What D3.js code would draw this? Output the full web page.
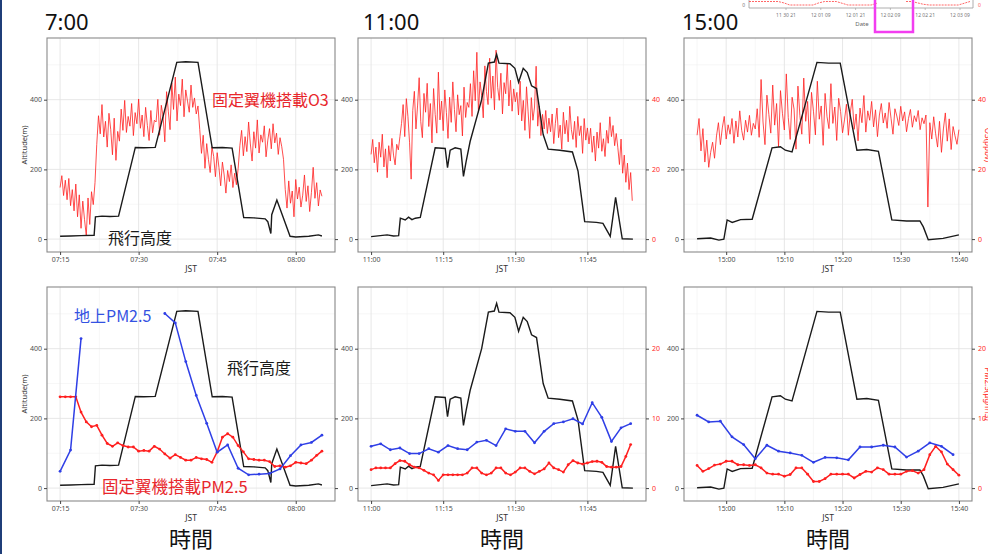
<!DOCTYPE html>
<html>
<head>
<meta charset="utf-8">
<script src="https://cdn.jsdelivr.net/npm/d3@7"></script>
<style>
  body { margin: 0; background: #fff; }
  svg { display: block; }
</style>
</head>
<body>
<script>
// ---- flight altitude, [time, m] ----
const alt07 = [["07:15:00",8],["07:17:00",9],["07:19:00",10],["07:21:30",11],["07:21:45",64],["07:23:00",66],["07:24:30",65],["07:26:10",66],
  ["07:29:22",263],["07:31:00",262],["07:33:10",263],["07:37:17",507],["07:39:00",509],["07:41:20",507],["07:44:03",262],["07:46:00",263],
  ["07:47:51",261],["07:50:04",62],["07:52:00",61],["07:54:10",58],["07:54:40",50],["07:55:15",16],["07:55:25",70],["07:56:24",112],
  ["07:58:55",8],["08:00:00",6],["08:02:30",8],["08:04:20",12],["08:05:00",9]];
const alt11 = [["11:00:00",7],["11:03:20",12],["11:04:40",9],["11:05:44",10],["11:06:05",60],["11:07:06",55],["11:07:48",63],["11:08:30",56],
  ["11:09:12",60],["11:10:14",62],["11:13:20",262],["11:15:25",260],["11:15:54",205],["11:16:27",255],["11:17:29",262],["11:18:40",258],
  ["11:19:13",180],["11:19:46",222],["11:20:36",280],["11:23:00",400],["11:24:24",505],["11:25:38",508],["11:26:07",530],["11:26:36",505],
  ["11:28:53",503],["11:29:55",490],["11:30:41",450],["11:31:39",490],["11:32:29",478],["11:33:23",440],["11:34:25",432],["11:35:48",300],
  ["11:36:50",258],["11:39:15",255],["11:41:53",250],["11:43:03",195],["11:44:26",50],["11:46:52",48],["11:48:14",45],["11:48:56",28],
  ["11:49:45",8],["11:50:52",120],["11:52:15",1],["11:54:28",0]];
const alt15 = [["14:55:00",1],["14:57:20",3],["14:58:45",-3],["14:59:36",0],["15:00:10",55],["15:01:02",48],["15:02:28",56],["15:04:28",57],
  ["15:07:53",262],["15:09:19",265],["15:10:10",255],["15:11:19",250],["15:15:36",507],["15:17:36",505],["15:19:36",505],["15:22:28",255],
  ["15:24:10",257],["15:26:10",252],["15:28:28",55],["15:31:00",52],["15:33:18",52],["15:33:53",35],["15:34:44",-2],["15:37:17",2],["15:40:00",12]];

// ---- airborne O3 (ppbv), one value every 20 s ----
const o3_07 = [14.8,18.2,12.5,16.9,11.3,17.4,9.6,14.2,8.1,15.8,6.4,12.7,3.1,10.9,5.6,1.0,11.8,4.2,13.6,9.9,16.2,
  27.1,35.4,30.2,38.6,29.3,33.8,26.4,36.1,31.5,24.2,34.7,22.6,30.9,28.1,37.3,31.2,39.8,30.6,35.2,32.4,38.9,29.7,36.3,33.1,40.2,31.8,35.6,29.4,37.8,32.6,28.3,36.9,30.5,34.1,
  33.6,40.1,29.8,38.4,35.2,27.9,42.3,36.7,31.4,44.8,37.2,46.5,33.9,41.6,38.3,45.9,35.1,42.8,39.6,36.4,44.2,37.8,40.5,35.9,
  38.2,31.5,24.6,29.8,20.3,27.4,22.8,19.1,26.5,23.7,17.9,24.8,20.6,15.3,22.1,18.4,13.2,19.7,16.5,21.3,14.8,18.9,15.6,20.2,
  26.8,31.2,23.9,29.4,25.1,33.6,27.3,22.4,30.8,26.1,34.2,24.7,29.9,27.8,32.5,23.6,28.4,31.7,25.9,33.1,27.6,30.4,24.3,29.1,26.5,22.9,
  14.2,8.9,16.7,10.3,13.8,6.4,17.1,11.5,14.9,9.2,12.6,18.4,10.8,15.3,7.9,13.4,20.6,11.7,16.2,9.5,14.1,12.3];
const o3_11 = [24.3,28.6,21.9,26.4,19.2,27.8,23.5,30.1,20.7,25.9,17.6,26.8,22.4,28.9,24.1,21.3,27.2,25.6,29.4,
  33.2,38.6,29.4,40.3,35.1,27.8,17.2,36.9,42.4,31.6,38.2,46.3,33.7,29.1,41.8,36.4,44.7,32.3,38.9,27.6,43.2,35.8,30.4,47.9,34.2,39.6,31.1,42.8,36.3,28.9,40.7,33.5,45.1,37.2,30.8,41.4,35.7,38.3,29.6,43.6,34.9,39.2,
  37.8,44.6,35.2,48.3,39.7,53.6,36.4,45.1,41.2,34.8,49.7,42.3,38.6,51.9,40.4,46.8,37.1,54.2,43.5,39.8,47.6,35.9,44.9,41.7,50.3,38.2,45.6,36.7,43.1,39.4,
  42.1,35.6,45.3,33.9,39.8,31.2,43.7,36.5,28.9,40.6,34.1,37.9,49.6,32.4,38.2,29.7,35.8,31.6,36.9,30.3,34.7,
  30.8,35.9,27.4,33.2,37.6,29.1,32.7,25.8,36.4,30.2,34.1,27.9,38.1,31.4,28.6,33.8,26.3,35.2,29.7,32.5,24.6,34.6,28.4,31.9,
  27.3,31.8,24.9,29.6,22.4,30.7,26.1,33.4,25.2,28.8,23.7,31.2,27.5,35.1,29.4,32.6,26.8,30.3,
  26.2,21.4,28.7,18.9,24.1,16.3,21.8,14.2,19.1,11.0];
const o3_15 = [29.8,34.6,25.3,31.7,22.1,28.4,20.6,24.9,27.8,23.2,
  29.6,33.4,27.1,31.9,35.2,28.7,32.8,30.1,34.6,27.5,33.9,29.3,36.8,31.2,28.4,34.1,30.7,35.5,29.8,33.2,31.6,
  37.4,29.2,45.8,33.6,27.1,41.3,35.8,30.4,44.2,32.7,38.9,26.5,42.6,36.1,31.3,47.4,34.9,28.6,40.7,37.3,25.8,43.9,35.4,30.1,46.2,
  33.8,39.5,27.4,42.1,36.7,29.9,45.3,34.4,38.2,26.9,41.8,35.1,31.7,44.6,33.2,37.9,28.3,40.4,36.6,30.5,
  34.2,38.7,29.8,36.4,40.1,31.5,35.9,28.2,37.6,33.4,41.2,30.7,36.8,34.1,39.5,32.2,37.1,29.4,35.6,38.9,33.3,36.2,31.8,39.2,34.7,
  30.1,37.4,35.3,32.6,38.1,33.9,36.5,30.8,34.6,37.2,32.1,35.4,33.7,36.9,31.4,34.8,33.1,35.6,
  9.2,33.4,28.7,35.1,30.2,26.4,33.8,24.9,31.6,36.2,28.1,34.5,25.7,32.3,29.6,27.2,31.4];

// ---- airborne PM2.5 (ug/m3), every 1 min ----
const pmAir07 = [13.1,13.1,13.1,13.1,10.9,9.5,8.8,9.0,7.6,6.4,6.0,6.5,6.1,5.9,5.9,5.3,5.4,5.3,6.0,5.6,4.9,4.3,4.8,4.4,4.0,4.0,
  4.4,4.2,4.1,3.7,5.2,7.3,7.8,7.3,6.1,5.2,4.2,4.1,4.0,4.0,3.8,3.1,3.2,3.0,3.2,3.7,3.6,3.5,4.0,4.7,5.3];
const pmAir11 = [2.65,2.9,2.9,2.9,2.9,3.5,3.95,3.85,3.35,3.0,2.9,2.55,2.15,1.9,1.1,1.9,1.9,1.9,1.9,1.9,
  2.15,2.9,2.9,2.15,1.9,2.15,2.9,2.9,2.15,1.9,2.3,2.9,2.9,2.4,2.05,2.4,2.75,3.6,2.9,2.65,
  2.3,3.35,3.95,3.6,3.45,3.6,3.8,3.85,3.7,3.1,3.0,3.0,3.1,4.55,6.25];
const pmAir15 = [3.25,2.4,2.8,3.3,3.45,3.85,3.85,3.35,3.35,3.25,3.35,2.9,2.15,2.0,2.0,1.7,1.95,2.9,2.9,2.0,
  0.95,0.95,1.35,2.0,2.0,2.0,2.0,1.45,1.95,2.4,2.3,2.9,2.65,2.0,2.0,2.0,2.4,2.5,2.15,2.65,4.8,6.0,5.2,3.45,2.65,1.85];

// ---- ground PM2.5 (ug/m3), every 2 min ----
const pmGround07 = [2.4,5.45,21.45,null,null,null,null,null,null,null,25.05,23.7,18.15,13.3,9.3,5.15,6.2,2.85,1.9,2.0,2.1,2.75,4.65,6.2,6.55,7.6];
const pmGround11 = [6.0,6.35,5.5,5.75,4.95,4.95,5.65,5.15,6.1,5.65,5.5,6.6,6.85,6.1,8.5,8.15,8.15,6.5,8.15,9.25,9.5,9.95,9.2,12.25,10.15,6.7,8.65,9.25];
const pmGround15 = [10.45,9.5,9.6,7.35,6.25,4.2,6.15,5.3,5.05,4.7,3.7,4.4,4.35,4.05,5.9,5.9,6.15,5.9,4.45,5.3,6.5,6.0,4.8];

// ---- axis ticks ----
const ticks07 = ["07:15","07:30","07:45","08:00"];
const ticks11 = ["11:00","11:15","11:30","11:45"];
const ticks15 = ["15:00","15:10","15:20","15:30","15:40"];
const altTicks = [0, 200, 400];
const o3Ticks = [0, 20, 40];
const pmTicks = [0, 10, 20];

// ---- strip of the overview chart at the top right ----
const insetLabels = ["11 30 21","12 01 09","12 01 21","12 02 09","12 02 21","12 03 09"];
const insetLevel = [1,1,1,1,1,1,0.6,0,0,0,0,0,0.6,1,1,1,0.5,0,0,0,0,0,0.5,null,null,null,null,1,1,0.6,0.2,0,0,0,0,0,0,0.5,1];

const W = 988, H = 554;
const font = "'Noto Sans', 'Open Sans', sans-serif";
const jp = "'Noto Sans CJK JP', sans-serif";
const RED = "#ff1f1f", BLUE = "#2f3fe6", BLACK = "#1a1a1a";

const svg = d3.select("body").append("svg").attr("width", W).attr("height", H);
svg.append("rect").attr("width", W).attr("height", H).attr("fill", "#fff");
svg.append("rect").attr("x", 0).attr("y", 0).attr("width", 2).attr("height", H).attr("fill", "#1f3d78");

const parseT = d3.timeParse("%H:%M:%S");
const T = s => parseT(s.length === 5 ? s + ":00" : s);
const fmt = d3.timeFormat("%H:%M");
const series = (start, stepSec, vals) => {
  const t0 = T(start);
  return vals.map((v, i) => ({ t: new Date(+t0 + i * stepSec * 1000), v }));
};

const flights = [
  { title: "7:00", alt: alt07, o3: series("07:15:00", 20, o3_07), air: series("07:15:00", 60, pmAir07),
    ground: series("07:15:00", 120, pmGround07), ticks: ticks07, first: "07:15:00", last: "08:05:00", minor: 7.5 },
  { title: "11:00", alt: alt11, o3: series("11:00:00", 20, o3_11), air: series("11:00:00", 60, pmAir11),
    ground: series("11:00:00", 120, pmGround11), ticks: ticks11, first: "11:00:00", last: "11:54:28", minor: 7.5 },
  { title: "15:00", alt: alt15, o3: series("14:55:00", 20, o3_15), air: series("14:55:00", 60, pmAir15),
    ground: series("14:55:00", 120, pmGround15), ticks: ticks15, first: "14:55:00", last: "15:40:00", minor: 5 }
];

const cols = [[47, 335], [358, 646], [684, 972]];
const rows = [[38, 252], [287, 501]];

function drawPanel(f, c, r) {
  const [x0, x1] = cols[c], [y0, y1] = rows[r];
  const g = svg.append("g");
  const t0 = T(f.first), t1 = T(f.last), pad = (t1 - t0) * 0.05;
  const x = d3.scaleTime().domain([new Date(+t0 - pad), new Date(+t1 + pad)]).range([x0, x1]);
  const y = d3.scaleLinear().domain([-37, 577]).range([y1, y0]);
  const y2 = d3.scaleLinear().domain(r === 0 ? [-3.7, 57.7] : [-1.85, 28.85]).range([y1, y0]);

  // grid
  const majT = f.ticks.map(T);
  const minT = [];
  const step = f.minor * 60000;
  for (let t = +majT[0] - step; t <= +x.domain()[1]; t += 2 * step) if (t >= +x.domain()[0]) minT.push(new Date(t));
  g.selectAll(".gmx").data(minT).join("line").attr("x1", d => x(d)).attr("x2", d => x(d)).attr("y1", y0).attr("y2", y1)
    .attr("stroke", "#f2f2f2").attr("stroke-width", 0.6);
  g.selectAll(".gmy").data([100, 300, 500]).join("line").attr("x1", x0).attr("x2", x1).attr("y1", d => y(d)).attr("y2", d => y(d))
    .attr("stroke", "#f2f2f2").attr("stroke-width", 0.6);
  g.selectAll(".gx").data(majT).join("line").attr("x1", d => x(d)).attr("x2", d => x(d)).attr("y1", y0).attr("y2", y1)
    .attr("stroke", "#e4e4e4").attr("stroke-width", 0.9);
  g.selectAll(".gy").data(altTicks).join("line").attr("x1", x0).attr("x2", x1).attr("y1", d => y(d)).attr("y2", d => y(d))
    .attr("stroke", "#e4e4e4").attr("stroke-width", 0.9);

  const altLine = d3.line().x(d => x(T(d[0]))).y(d => y(d[1]));
  const valLine = sc => d3.line().defined(d => d.v != null).x(d => x(d.t)).y(d => sc(d.v));

  if (r === 0) {
    g.append("path").attr("d", valLine(y2)(f.o3)).attr("fill", "none").attr("stroke", RED).attr("stroke-width", 0.8);
    g.append("path").attr("d", altLine(f.alt)).attr("fill", "none").attr("stroke", BLACK).attr("stroke-width", 1.4);
  } else {
    g.append("path").attr("d", altLine(f.alt)).attr("fill", "none").attr("stroke", BLACK).attr("stroke-width", 1.4);
    [[f.air, RED], [f.ground, BLUE]].forEach(([s, col]) => {
      g.append("path").attr("d", valLine(y2)(s)).attr("fill", "none").attr("stroke", col).attr("stroke-width", 1.5);
      g.selectAll(null).data(s.filter(d => d.v != null)).join("circle")
        .attr("cx", d => x(d.t)).attr("cy", d => y2(d.v)).attr("r", 1.4).attr("fill", col);
    });
  }

  // frame
  g.append("rect").attr("x", x0).attr("y", y0).attr("width", x1 - x0).attr("height", y1 - y0)
    .attr("fill", "none").attr("stroke", "#8a8a8a").attr("stroke-width", 1.1);

  const styleAxis = (a, col) => {
    a.select(".domain").remove();
    a.selectAll("line").attr("stroke", "#444");
    a.selectAll("text").attr("font-size", 7).attr("font-family", font).attr("fill", col);
  };
  styleAxis(g.append("g").attr("transform", `translate(${x0},0)`)
    .call(d3.axisLeft(y).tickValues(altTicks).tickSize(3).tickPadding(2)), "#4d4d4d");
  const ax2 = g.append("g").attr("transform", `translate(${x1},0)`)
    .call(d3.axisRight(y2).tickValues(r === 0 ? o3Ticks : pmTicks).tickSize(3).tickPadding(3));
  styleAxis(ax2, RED);
  if (c === 0) ax2.selectAll("text").remove();
  styleAxis(g.append("g").attr("transform", `translate(0,${y1})`)
    .call(d3.axisBottom(x).tickValues(majT).tickFormat(fmt).tickSize(3).tickPadding(2)), "#4d4d4d");

  g.append("text").attr("x", (x0 + x1) / 2).attr("y", y1 + 20).attr("text-anchor", "middle")
    .attr("font-size", 8.5).attr("font-family", font).attr("fill", "#333").text("JST");
  if (c === 0) {
    g.append("text").attr("transform", `translate(${x0 - 20},${(y0 + y1) / 2}) rotate(-90)`).attr("text-anchor", "middle")
      .attr("font-size", 7.5).attr("font-family", font).attr("fill", "#333").text("Altitude(m)");
  }
  if (c === 2) {
    g.append("text").attr("transform", `translate(${x1 + 13},${(y0 + y1) / 2}) rotate(90)`).attr("text-anchor", "middle")
      .attr("font-size", 8).attr("font-family", font).attr("fill", RED).text(r === 0 ? "O3(ppbv)" : "PM2.5(μg/m3)");
  }
  if (r === 0) {
    svg.append("text").attr("x", x0 - 2 + (c === 1 ? 7 : 0)).attr("y", 30).attr("font-size", 22)
      .attr("font-family", font).attr("fill", "#111").text(f.title);
  } else {
    svg.append("text").attr("x", (x0 + x1) / 2).attr("y", 547).attr("text-anchor", "middle").attr("font-size", 22)
      .attr("font-family", jp).attr("fill", "#111").text("時間");
  }
}

flights.forEach((f, c) => { drawPanel(f, c, 0); drawPanel(f, c, 1); });

// annotations
const note = (x, y, txt, col, size) => svg.append("text").attr("x", x).attr("y", y).attr("font-size", size)
  .attr("font-family", jp).attr("fill", col).text(txt);
note(212, 106, "固定翼機搭載O3", "#e8262b", 16);
note(108, 244, "飛行高度", "#1a1a1a", 16);
note(74, 322, "地上PM2.5", "#3452e2", 16);
note(227, 374, "飛行高度", "#1a1a1a", 16);
note(102, 493, "固定翼機搭載PM2.5", "#e8262b", 16.5);

// overview strip (top right)
const ix = d3.scaleLinear().domain([0, insetLevel.length - 1]).range([749, 970]);
const iy = d3.scaleLinear().domain([0, 1]).range([5, 1.5]);
const ig = svg.append("g");
ig.append("path").attr("d", "M749,0V8H973V0").attr("fill", "none").attr("stroke", "#999").attr("stroke-width", 0.8);
ig.append("path").attr("d", d3.line().defined(d => d != null).x((d, i) => ix(i)).y(d => iy(d))(insetLevel))
  .attr("fill", "none").attr("stroke", "#ff4040").attr("stroke-width", 0.8).attr("stroke-dasharray", "2,1");
const ilx = d3.scalePoint().domain(insetLabels).range([786, 960]);
ig.selectAll(".il").data(insetLabels).join("text").attr("x", d => ilx(d)).attr("y", 17).attr("text-anchor", "middle")
  .attr("font-size", 5).attr("font-family", font).attr("fill", "#777").text(d => d);
ig.selectAll(".it").data(insetLabels).join("line").attr("x1", d => ilx(d)).attr("x2", d => ilx(d)).attr("y1", 8).attr("y2", 10)
  .attr("stroke", "#999").attr("stroke-width", 0.6);
ig.append("text").attr("x", 862).attr("y", 26).attr("text-anchor", "middle").attr("font-size", 6)
  .attr("font-family", font).attr("fill", "#666").text("Date");
ig.append("text").attr("x", 745).attr("y", 7).attr("text-anchor", "end").attr("font-size", 5).attr("font-family", font).attr("fill", "#777").text("0");
ig.append("text").attr("x", 978).attr("y", 7).attr("font-size", 5).attr("font-family", font).attr("fill", "#f55").text("0");
ig.append("rect").attr("x", 875).attr("y", -3).attr("width", 38).attr("height", 35)
  .attr("fill", "none").attr("stroke", "#f23df0").attr("stroke-width", 2.5);
</script>
</body>
</html>
